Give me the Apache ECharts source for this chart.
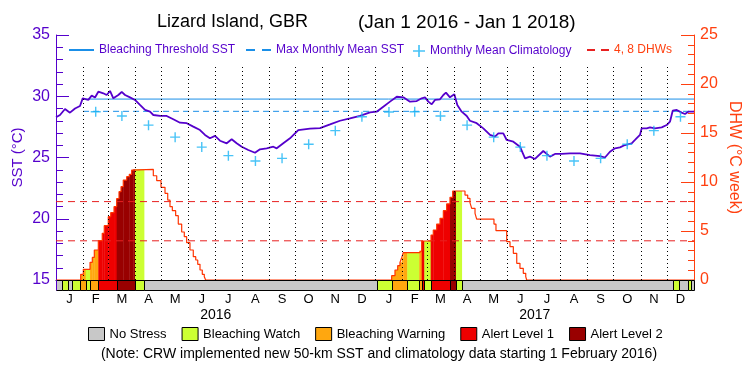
<!DOCTYPE html>
<html>
<head>
<meta charset="utf-8">
<script src="https://cdn.jsdelivr.net/npm/echarts@6/dist/echarts.min.js"></script>
<style>
  html, body { margin: 0; background: #fff; }
  #chart { width: 750px; height: 375px; }
</style>
</head>
<body>
<div id="chart"></div>
<script>
// day offsets are counted from Jan 1 2016
const DAY = 86400000;
const T0 = Date.UTC(2016, 0, 1);
const MONTH_LETTERS = ['J', 'F', 'M', 'A', 'M', 'J', 'J', 'A', 'S', 'O', 'N', 'D'];
const YEARS = ['2016', '2017'];

// daily SST (deg C), [day, value]
const sst = [
  [0, 28.28], [4.6, 28.47], [10.3, 28.96], [16, 28.66], [21.8, 29.0], [27.5, 29.2],
  [30.6, 29.83], [37, 29.7], [40.9, 30.05], [44.7, 29.9], [48.5, 30.37], [54.2, 30.24],
  [58.1, 30.1], [61.9, 30.43], [65.7, 29.83], [71.4, 30.1], [75.3, 30.35], [79.1, 30.1],
  [84.8, 29.91], [90.5, 29.7], [96.2, 29.29], [102, 28.88], [107.7, 28.74], [111.5, 28.47],
  [119.2, 28.39], [126.8, 28.39], [134.4, 28.12], [142.1, 27.84], [149.8, 27.8], [157.3, 27.52],
  [165, 27.24], [170.7, 26.84], [176.4, 26.57], [182.2, 26.76], [187.9, 26.37], [195.6, 26.16],
  [201.3, 26.49], [207, 26.16], [212.8, 25.88], [220.3, 25.61], [228, 25.39], [233.7, 25.67],
  [241.4, 25.75], [249, 25.88], [252.9, 25.75], [260.4, 26.16], [268.1, 26.57], [277.6, 27.24],
  [291, 27.35], [302.5, 27.4], [314, 27.7], [325.4, 28.0], [336.9, 28.2], [348.3, 28.4],
  [359.8, 28.69], [367.4, 28.74], [375, 29.15], [382.7, 29.56], [390.4, 29.96], [398, 29.91],
  [405.6, 29.56], [413.3, 29.61], [419, 29.83], [422.8, 29.91], [426.6, 29.56], [430.5, 29.34],
  [434.2, 29.7], [440, 29.75], [443.8, 30.1], [446.8, 30.29], [451.4, 29.91], [456.4, 30.16],
  [459.8, 29.29], [464.8, 28.74], [470.6, 28.39], [474.3, 28.0], [482, 27.8], [489.6, 27.38],
  [497.3, 26.84], [503, 26.7], [506.8, 26.97], [512.5, 26.97], [516.4, 26.43], [524, 26.29],
  [531.6, 25.88], [537.4, 24.93], [543.1, 25.07], [548.8, 24.88], [558.3, 25.53], [566, 25.07],
  [571.7, 25.29], [579.4, 25.29], [588.9, 25.34], [600.4, 25.34], [611.8, 25.2], [623.3, 25.12],
  [629, 25.0], [634.7, 25.47], [640.5, 25.75], [646.2, 25.83], [651.9, 26.02], [659.6, 26.16],
  [663.4, 26.43], [669.1, 26.84], [671, 27.38], [676.8, 27.38], [680.6, 27.46], [686.3, 27.38],
  [694, 27.46], [699.7, 27.65], [703.5, 27.92], [706.6, 28.82], [711.2, 28.88], [716.9, 28.66],
  [720.7, 28.55], [724.5, 28.74], [731, 28.74],
];

// monthly mean climatology, Jan..Dec
const climatology = [28.71, 28.74, 28.39, 27.64, 26.66, 25.85, 25.15, 24.71, 24.93, 26.08, 27.19, 28.33];
const mmm = 28.77;
const threshold = 29.77;
const climStartDay = 31; // new climatology from 1 Feb 2016
const dhwLevels = [4, 8];

// degree heating weeks, step values [day, value]
const dhw = [
  [0, 0], [28.3, 0.58], [31.3, 1.09], [39, 1.8], [41.6, 2.3], [43.9, 3.06], [48.5, 4.01],
  [53, 4.76], [55.3, 5.54], [59.9, 6.46], [62.7, 6.87], [66.5, 7.48], [69.5, 8.3], [72.2, 9.01],
  [74.5, 9.52], [77.1, 10.2], [81, 10.54], [84, 10.78], [86.7, 11.22], [88.6, 11.29],
  [111.5, 10.64], [115.4, 10.14], [120.3, 9.46], [124.9, 8.84], [128, 8.16], [130.6, 7.48],
  [133.3, 7.07], [137.1, 6.56], [140.1, 5.71], [144, 4.9], [147, 4.42], [149.7, 3.81],
  [153.5, 3.06], [157.3, 2.38], [160.1, 2.04], [162.4, 1.6], [165, 1.02], [167.6, 0.58],
  [169.9, 0.34], [171.5, 0],
  [384.6, 0.44], [388.4, 1.02], [391.5, 1.46], [394.1, 1.8], [396.1, 2.28], [397.9, 2.79],
  [416.2, 2.99], [419, 3.98], [429.7, 4.59], [432.3, 5.1], [436.2, 5.71], [440, 6.29],
  [443.8, 7.07], [447.6, 7.76], [451.4, 8.44], [454.5, 9.08], [468.6, 8.67], [471.7, 8.33],
  [474.3, 7.89], [476.3, 7.31], [480.1, 6.8], [482, 6.22], [501.8, 5.71], [504.1, 5.03],
  [516.4, 3.91], [520.2, 3.4], [524, 2.72], [527.9, 1.7], [531.6, 1.19], [535.4, 0.68],
  [538.2, 0.34], [539.3, 0], [731, 0],
];

// stress level runs [startDay, endDay, level]
const stress = [
  [0, 7, 0], [7, 14, 1], [14, 18, 0], [18, 28, 1], [28, 34, 2], [34, 39, 1], [39, 48.5, 2],
  [48.5, 69.5, 3], [69.5, 90.5, 4], [90.5, 100.8, 1], [100.8, 368, 0], [368, 384.6, 1],
  [384.6, 402.5, 2], [402.5, 416.2, 1], [416.2, 419, 2], [419, 422, 3], [422, 429.3, 1],
  [429.3, 451.4, 3], [451.4, 458.3, 4], [458.3, 464.8, 1], [464.8, 707.3, 0], [707.3, 714.2, 1],
  [714.2, 724.5, 0], [724.5, 727.6, 1], [727.6, 731, 0],
];
const stressNames = ['No Stress', 'Bleaching Watch', 'Bleaching Warning', 'Alert Level 1', 'Alert Level 2'];
const stressColors = ['#c8c8c8', '#ccff33', '#ffa70f', '#ee0000', '#990000'];

const FONT = '"Liberation Sans", Arial, sans-serif';
const PURPLE = '#5500cc';
const ORANGE = '#ff4010';

const monthStarts = [];
for (let m = 0; m <= 24; m++) monthStarts.push((Date.UTC(2016, m, 1) - T0) / DAY);
const monthMids = monthStarts.slice(0, 24).map((d, i) => (d + monthStarts[i + 1]) / 2);
const yearMids = [(monthStarts[0] + monthStarts[12]) / 2, (monthStarts[12] + monthStarts[24]) / 2];
const endDay = monthStarts[24];

const climPoints = [];
for (let m = 1; m < 24; m++) climPoints.push([monthMids[m], climatology[m % 12]]);

function fillItems() {
  const out = [];
  for (let i = 0; i < dhw.length - 1; i++) {
    const [d0, v] = dhw[i];
    const d1 = dhw[i + 1][0];
    if (v <= 0) continue;
    stress.forEach(([s0, s1, lvl]) => {
      if (lvl === 0) return;
      const a = Math.max(d0, s0);
      const b = Math.min(d1, s1);
      if (b > a) out.push([a, b, v, lvl]);
    });
  }
  return out;
}

function renderFill(params, api) {
  const p0 = api.coord([api.value(0), api.value(2)]);
  const p1 = api.coord([api.value(1), 0]);
  return {
    type: 'rect',
    shape: { x: p0[0], y: p0[1], width: p1[0] - p0[0] + 0.4, height: p1[1] - p0[1] },
    style: { fill: stressColors[api.value(3)] },
  };
}

function renderStress(params, api) {
  const a = api.coord([api.value(0), 1]);
  const b = api.coord([api.value(1), 0]);
  const x0 = Math.round(a[0]) + 0.5;
  const x1 = Math.round(b[0]) + 0.5;
  const y0 = Math.round(a[1]) + 0.5;
  const y1 = Math.round(b[1]) + 0.5;
  return {
    type: 'rect',
    shape: { x: x0, y: y0, width: x1 - x0, height: y1 - y0 },
    style: { fill: stressColors[params.seriesIndex - 8], stroke: '#000', lineWidth: 1 },
  };
}

const legendBase = {
  orient: 'horizontal',
  top: 44,
  padding: 0,
  itemGap: 0,
  itemHeight: 14,
  selectedMode: false,
  itemStyle: { opacity: 0 },
  textStyle: { fontSize: 12, color: PURPLE, fontFamily: FONT },
};

const chart = echarts.init(document.getElementById('chart'), null, { renderer: 'canvas' });

chart.setOption({
  animation: false,
  backgroundColor: '#fff',
  textStyle: { fontFamily: FONT },
  title: [
    { text: 'Lizard Island, GBR', left: 157, top: 13, padding: 0,
      textStyle: { fontSize: 18, fontWeight: 'normal', color: '#000', fontFamily: FONT } },
    { text: '(Jan 1 2016 - Jan 1 2018)', left: 358, top: 13, padding: 0,
      textStyle: { fontSize: 19, fontWeight: 'normal', color: '#000', fontFamily: FONT } },
  ],
  graphic: [{
    type: 'text',
    x: 379,
    y: 354,
    style: {
      text: '(Note: CRW implemented new 50-km SST and climatology data starting 1 February 2016)',
      fill: '#000',
      font: '14px ' + FONT,
      align: 'center',
      verticalAlign: 'middle',
    },
  }],
  legend: [
    { ...legendBase, left: 68, itemWidth: 25, data: ['Bleaching Threshold SST'] },
    { ...legendBase, left: 245, itemWidth: 25, lineStyle: { type: [9, 7] },
      data: ['Max Monthly Mean SST'] },
    { ...legendBase, left: 413, top: 45, itemWidth: 12, itemHeight: 12, itemStyle: {},
      data: ['Monthly Mean Climatology'] },
    { ...legendBase, left: 586, itemWidth: 22, lineStyle: { type: [8, 6] }, data: ['4, 8 DHWs'],
      textStyle: { fontSize: 12, color: ORANGE, fontFamily: FONT } },
    { orient: 'horizontal', left: 88, top: 327, padding: 0, itemGap: 15, itemWidth: 16, itemHeight: 13,
      icon: 'rect', selectedMode: false,
      itemStyle: { borderColor: '#000', borderWidth: 1 },
      textStyle: { fontSize: 13, color: '#000', fontFamily: FONT },
      data: stressNames },
  ],
  grid: [
    { left: 56, right: 56, top: 35, height: 245, outerBoundsMode: 'none' },
    { left: 56, right: 56, top: 280, height: 10, outerBoundsMode: 'none' },
  ],
  xAxis: [
    { gridIndex: 0, type: 'value', min: 0, max: endDay, position: 'top',
      axisLine: { show: true, lineStyle: { color: '#000', width: 1 } },
      axisTick: { show: false }, axisLabel: { show: false }, splitLine: { show: false } },
    { gridIndex: 1, type: 'value', min: 0, max: endDay, position: 'bottom',
      axisLine: { show: false }, axisTick: { show: false }, splitLine: { show: false },
      axisLabel: {
        customValues: monthMids, color: '#000', fontSize: 13, margin: 3,
        formatter: (v) => {
          const i = monthMids.findIndex((m) => Math.abs(m - v) < 0.01);
          return i < 0 ? '' : MONTH_LETTERS[i % 12];
        },
      } },
    { gridIndex: 1, type: 'value', min: 0, max: endDay, position: 'bottom', offset: 16,
      axisLine: { show: false }, axisTick: { show: false }, splitLine: { show: false },
      axisLabel: {
        customValues: yearMids, color: '#000', fontSize: 14, margin: 2,
        formatter: (v) => (v < monthStarts[12] ? YEARS[0] : YEARS[1]),
      } },
  ],
  yAxis: [
    { gridIndex: 0, type: 'value', min: 15, max: 35, interval: 5, position: 'left',
      name: 'SST (°C)', nameLocation: 'middle', nameGap: 31, nameRotate: 90, nameMoveOverlap: false,
      nameTextStyle: { color: PURPLE, fontSize: 15, fontFamily: FONT },
      axisLine: { show: true, lineStyle: { color: PURPLE, width: 1 } },
      axisTick: { show: true, inside: true, length: 13, lineStyle: { color: PURPLE } },
      minorTick: { show: true, splitNumber: 5, length: 7, lineStyle: { color: PURPLE } },
      axisLabel: { color: PURPLE, fontSize: 16, margin: 6 },
      splitLine: { show: false }, minorSplitLine: { show: false } },
    { gridIndex: 0, type: 'value', min: 0, max: 25, interval: 5, position: 'right',
      name: 'DHW (°C week)', nameLocation: 'middle', nameGap: 32, nameRotate: -90, nameMoveOverlap: false,
      nameTextStyle: { color: ORANGE, fontSize: 16, fontFamily: FONT },
      axisLine: { show: true, lineStyle: { color: ORANGE, width: 1 } },
      axisTick: { show: true, inside: true, length: 13, lineStyle: { color: ORANGE } },
      minorTick: { show: true, splitNumber: 5, length: 6, lineStyle: { color: ORANGE } },
      axisLabel: { color: ORANGE, fontSize: 16, margin: 6 },
      splitLine: { show: false }, minorSplitLine: { show: false } },
    { gridIndex: 1, type: 'value', min: 0, max: 1, position: 'left', z: 10,
      axisLine: { show: true, lineStyle: { color: PURPLE, width: 1 } },
      axisTick: { show: false }, axisLabel: { show: false }, splitLine: { show: false } },
  ],
  series: [
    { name: 'DHW fill', type: 'custom', xAxisIndex: 0, yAxisIndex: 1, z: 2, silent: true,
      renderItem: renderFill, encode: { x: [0, 1], y: 2 }, data: fillItems() },
    { name: 'SST', type: 'line', xAxisIndex: 0, yAxisIndex: 0, z: 4, silent: true,
      symbol: 'none', lineStyle: { color: PURPLE, width: 1.8 }, data: sst,
      markLine: {
        silent: true, symbol: ['none', 'none'], label: { show: false },
        lineStyle: { color: '#000', width: 1, type: [1, 3] },
        emphasis: { disabled: true },
        data: monthStarts.slice(1, 24).map((d) => [{ coord: [d, 15] }, { coord: [d, 32.5] }]),
      } },
    { name: 'Bleaching Threshold SST', type: 'line', xAxisIndex: 0, yAxisIndex: 0, z: 3, silent: true,
      symbol: 'none', itemStyle: { color: '#1a8fe8' }, lineStyle: { color: '#1a8fe8', width: 1 },
      data: [[climStartDay, threshold], [endDay, threshold]] },
    { name: 'Max Monthly Mean SST', type: 'line', xAxisIndex: 0, yAxisIndex: 0, z: 3, silent: true,
      symbol: 'none', itemStyle: { color: '#1a8fe8' },
      lineStyle: { color: '#1a8fe8', width: 1, type: [6, 4] },
      data: [[climStartDay, mmm], [endDay, mmm]] },
    { name: 'Monthly Mean Climatology', type: 'scatter', xAxisIndex: 0, yAxisIndex: 0, z: 5, silent: true,
      symbol: 'path://M4.3,0H5.7V4.3H10V5.7H5.7V10H4.3V5.7H0V4.3H4.3Z', symbolSize: 10,
      itemStyle: { color: '#1ab4f5' }, data: climPoints },
    { name: 'DHW', type: 'line', xAxisIndex: 0, yAxisIndex: 1, z: 4, silent: true, step: 'end',
      symbol: 'none', lineStyle: { color: '#ff3300', width: 1.2 }, data: dhw },
    { name: '4, 8 DHWs', type: 'line', xAxisIndex: 0, yAxisIndex: 1, z: 3, silent: true,
      symbol: 'none', itemStyle: { color: '#e82020' },
      lineStyle: { color: '#e82020', width: 1, type: [7, 5] },
      data: [[0, dhwLevels[0]], [endDay, dhwLevels[0]]] },
    { name: '4, 8 DHWs', type: 'line', xAxisIndex: 0, yAxisIndex: 1, z: 3, silent: true,
      symbol: 'none', itemStyle: { color: '#e82020' },
      lineStyle: { color: '#e82020', width: 1, type: [7, 5] },
      data: [[0, dhwLevels[1]], [endDay, dhwLevels[1]]] },
    ...stressNames.map((name, lvl) => ({
      name, type: 'custom', xAxisIndex: 1, yAxisIndex: 2, z: 6, silent: true,
      itemStyle: { color: stressColors[lvl] },
      renderItem: renderStress, encode: { x: [0, 1] },
      data: stress.filter((s) => s[2] === lvl).map((s) => [s[0], s[1]]),
    })),
  ],
});
</script>
</body>
</html>
